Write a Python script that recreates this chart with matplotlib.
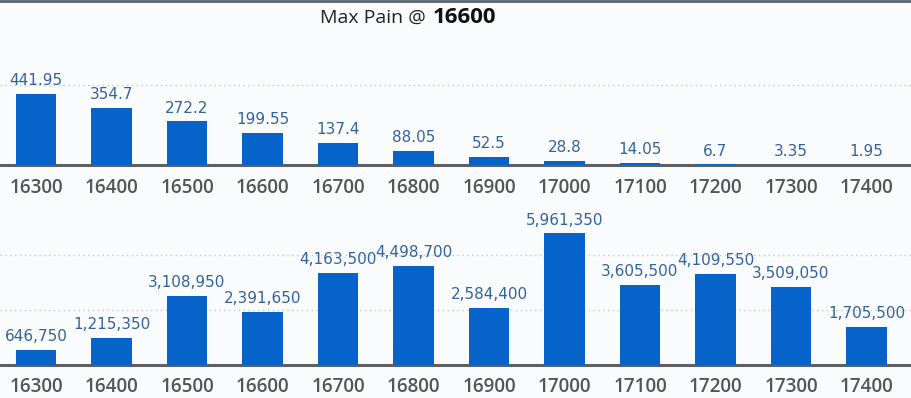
import matplotlib
matplotlib.use("Agg")
import matplotlib.pyplot as plt

strikes = ["16300", "16400", "16500", "16600", "16700", "16800",
           "16900", "17000", "17100", "17200", "17300", "17400"]
pain_values = [441.95, 354.7, 272.2, 199.55, 137.4, 88.05,
               52.5, 28.8, 14.05, 6.7, 3.35, 1.95]
oi_values = [646750, 1215350, 3108950, 2391650, 4163500, 4498700,
             2584400, 5961350, 3605500, 4109550, 3509050, 1705500]
max_pain = "16600"

W, H = 912, 398
BG = "#fafbfd"
BAR = "#0563c9"
LBL = "#33639c"
TICK = "#555555"
FONT = "Open Sans"

fig = plt.figure(figsize=(W / 100, H / 100), dpi=100, facecolor=BG)

x = list(range(len(strikes)))
xlim = (-36 / 75.5, 876 / 75.5)


def panel(bottom_px, top_px, ymax, grid, values, fmt):
    ax = fig.add_axes([0, 1 - bottom_px / H, 1, (bottom_px - top_px) / H])
    ax.set_facecolor(BG)
    ax.bar(x, values, width=0.543, color=BAR, zorder=3)
    ax.set_xlim(*xlim)
    ax.set_ylim(0, ymax)
    for g in grid:
        ax.axhline(g, color="#c6c6c6", lw=1.0, dashes=(1, 2.5), zorder=1, clip_on=False)
    for s in ["top", "left", "right"]:
        ax.spines[s].set_visible(False)
    ax.spines["bottom"].set_color("#606060")
    ax.spines["bottom"].set_linewidth(2.2)
    ax.set_yticks([])
    ax.set_xticks(x)
    ax.set_xticklabels(strikes, fontfamily=FONT, fontsize=13.6, fontweight="semibold", color=TICK)
    ax.tick_params(axis="x", length=0, pad=9)
    for xi, v in zip(x, values):
        ax.annotate(fmt(v), (xi, v), xytext=(0, 4.2), textcoords="offset points",
                    ha="center", va="bottom", fontfamily="DejaVu Sans", fontsize=11,
                    color=LBL, zorder=4, annotation_clip=False)
    return ax


panel(165.5, 84.5, 500, [500], pain_values, lambda v: f"{v:g}")
panel(364.5, 199.5, 7500000, [2500000, 5000000], oi_values, lambda v: f"{v:,}")

# top border
fig.add_artist(plt.Line2D([0, 1], [1 - 1 / H, 1 - 1 / H], color="#5a6370", lw=2, transform=fig.transFigure))

fig.text(426 / W, 1 - 23 / H, "Max Pain @", ha="right", va="baseline",
         fontfamily=FONT, fontsize=14, color="#222222")
fig.text(433 / W, 1 - 23 / H, max_pain, ha="left", va="baseline",
         fontfamily=FONT, fontsize=16, fontweight="bold", color="#111111")

fig.savefig("out.png", dpi=100, facecolor=BG)
